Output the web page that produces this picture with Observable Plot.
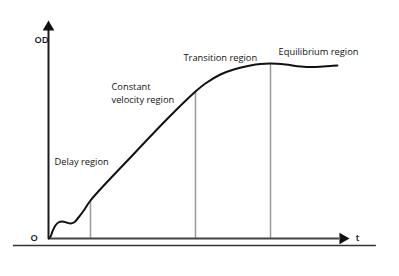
<!DOCTYPE html>
<html>
<head>
<meta charset="utf-8">
<script src="https://cdn.jsdelivr.net/npm/d3@7"></script>
<script src="https://cdn.jsdelivr.net/npm/@observablehq/plot@0.6"></script>
<style>
  html, body { margin: 0; padding: 0; background: #fff; }
  svg { overflow: visible; }
</style>
</head>
<body>
<div id="chart"></div>
<script>
// Growth curve (arbitrary units): time t and optical density OD
const tValues = [0, 0.7, 1.3, 2.3, 3.3, 4.7, 6, 7.3, 8.7, 10, 12, 14, 27.3, 40.7, 49, 52.3, 57.3, 62.3, 67.3, 70.7, 74, 79, 84, 89, 94, 96.3];
const odValues = [0, 1, 3.5, 6.5, 8, 8.5, 8, 7.5, 8.25, 10.5, 14.5, 19, 40.5, 61.5, 73.5, 77.5, 82, 84.75, 86.5, 87.25, 87.5, 87, 86, 85.75, 86.25, 86.5];

// Region boundaries (vertical guide lines)
const boundaryT = [14, 49, 74];
const boundaryOD = [19, 73.5, 87.5];

// Region labels
const regionLabels = ["Delay region", "Constant", "velocity region", "Transition region", "Equilibrium region"];
const regionLabelT = [2, 21, 21, 45, 76.7];
const regionLabelOD = [38, 75.6, 69.1, 90, 93];

// Axis labels and extents
const axisLabels = ["OD", "O", "t"];
const axisLabelT = [-2.3, -4.8, 103];
const axisLabelOD = [99.2, 0, 0];
const axisEndT = 97;
const axisEndOD = 104;
const arrowT = 98.1;
const arrowOD = 105.7;
const frameOD = -3.5;
const frameT = [-11.7, 109.3];

const curve = tValues.map((t, i) => ({t, od: odValues[i]}));
const bounds = boundaryT.map((t, i) => ({t, od: boundaryOD[i]}));
const regions = regionLabels.map((label, i) => ({label, t: regionLabelT[i], od: regionLabelOD[i]}));
const axisText = axisLabels.map((label, i) => ({label, t: axisLabelT[i], od: axisLabelOD[i]}));

const font = "'Open Sans', 'DejaVu Sans', sans-serif";

const chart = Plot.plot({
  width: 399,
  height: 276,
  marginLeft: 48,
  marginRight: 51,
  marginTop: 38,
  marginBottom: 38,
  x: {domain: [0, 100], axis: null},
  y: {domain: [0, 100], axis: null},
  style: {background: "#fff", fontFamily: font, overflow: "visible"},
  marks: [
    Plot.ruleY([{od: frameOD, x1: frameT[0], x2: frameT[1]}], {y: "od", x1: "x1", x2: "x2", stroke: "#333", strokeWidth: 1.5}),
    Plot.ruleX(bounds, {x: "t", y1: () => 0, y2: "od", stroke: "#9a9a9a", strokeWidth: 1.5}),
    Plot.ruleX([{t: 0, y2: axisEndOD}], {x: "t", y1: () => 0, y2: "y2", stroke: "#1a1a1a", strokeWidth: 2}),
    Plot.ruleY([{od: 0, x2: axisEndT}], {y: "od", x1: () => 0, x2: "x2", stroke: "#444", strokeWidth: 2}),
    Plot.line(curve, {x: "t", y: "od", curve: "catmull-rom", stroke: "#111", strokeWidth: 2}),
    Plot.dot([{t: 0, od: arrowOD}], {x: "t", y: "od", symbol: "triangle", r: 4.3, fill: "#111", stroke: null}),
    Plot.dot([{t: arrowT, od: 0}], {x: "t", y: "od", symbol: "triangle", r: 4.3, fill: "#111", stroke: null, rotate: 90}),
    Plot.text(regions, {x: "t", y: "od", text: "label", textAnchor: "start", fontSize: 9.3, fill: "#111", fontWeight: 500, fontFamily: font}),
    Plot.text(axisText, {x: "t", y: "od", text: "label", textAnchor: d => d.label === "OD" ? "end" : "middle", fontSize: 9.3, fill: "#111", fontWeight: 600, fontFamily: font})
  ]
});
document.getElementById("chart").appendChild(chart);
</script>
</body>
</html>
